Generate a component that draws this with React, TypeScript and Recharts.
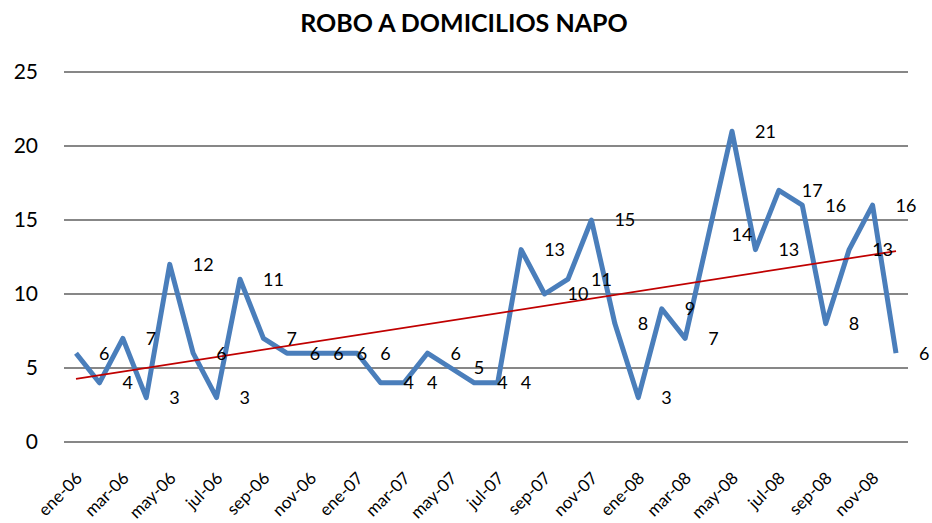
import React from 'react';
import {
  LineChart,
  Line,
  XAxis,
  YAxis,
  CartesianGrid,
  LabelList,
} from 'recharts';

// Meses ene-06 .. dic-08
const MONTHS = [
  'ene-06', 'feb-06', 'mar-06', 'abr-06', 'may-06', 'jun-06',
  'jul-06', 'ago-06', 'sep-06', 'oct-06', 'nov-06', 'dic-06',
  'ene-07', 'feb-07', 'mar-07', 'abr-07', 'may-07', 'jun-07',
  'jul-07', 'ago-07', 'sep-07', 'oct-07', 'nov-07', 'dic-07',
  'ene-08', 'feb-08', 'mar-08', 'abr-08', 'may-08', 'jun-08',
  'jul-08', 'ago-08', 'sep-08', 'oct-08', 'nov-08', 'dic-08',
];

// Robos a domicilio por mes
const ROBOS = [
  6, 4, 7, 3, 12, 6, 3, 11, 7, 6, 6, 6,
  6, 4, 4, 6, 5, 4, 4, 13, 10, 11, 15, 8,
  3, 9, 7, 14, 21, 13, 17, 16, 8, 13, 16, 6,
];

// Línea de tendencia (extremos)
const TREND_START = 4.26;
const TREND_END = 12.9;

const Y_TICKS = [0, 5, 10, 15, 20, 25];

const FONT = 'Lato, "Open Sans", sans-serif';

const data = MONTHS.map((m, i) => ({
  mes: m,
  robos: ROBOS[i],
  tendencia: i === 0 ? TREND_START : i === MONTHS.length - 1 ? TREND_END : null,
}));

function MonthTick({ x, y, payload }: any) {
  const tx = x + 3;
  const ty = y + 25;
  return (
    <text
      x={tx}
      y={ty}
      dy="0.35em"
      textAnchor="end"
      transform={`rotate(-45, ${tx}, ${ty})`}
      fontSize={17}
      fontFamily={FONT}
      fill="#000"
    >
      {payload.value}
    </text>
  );
}

function ValueLabel({ x, y, value }: any) {
  return (
    <text
      x={x + 23}
      y={y}
      dy="0.35em"
      textAnchor="start"
      fontSize={18}
      fontFamily={FONT}
      fill="#000"
    >
      {value}
    </text>
  );
}

export default function App() {
  return (
    <div style={{ position: 'absolute', left: 0, top: 0, width: 932, height: 523, background: '#fff' }}>
      <div
        style={{
          position: 'absolute',
          left: 0,
          top: 7,
          width: 928,
          textAlign: 'center',
          fontFamily: FONT,
          fontWeight: 700,
          fontSize: 25,
          color: '#000',
        }}
      >
        ROBO A DOMICILIOS NAPO
      </div>
      <LineChart
        width={932}
        height={523}
        data={data}
        margin={{ top: 72, right: 24, bottom: 0, left: 0 }}
      >
        <CartesianGrid vertical={false} stroke="#878787" strokeWidth={2} />
        <XAxis
          dataKey="mes"
          interval={1}
          height={81}
          padding={{ left: 12, right: 12 }}
          axisLine={false}
          tickLine={false}
          tick={<MonthTick />}
        />
        <YAxis
          width={64}
          domain={[0, 25]}
          ticks={Y_TICKS}
          axisLine={false}
          tickLine={false}
          tickSize={0}
          tickMargin={26}
          tick={{ fontSize: 21, fontFamily: FONT, fill: '#000' }}
        />
        <Line
          dataKey="robos"
          stroke="#4a7ebb"
          strokeWidth={5}
          strokeLinejoin="round"
          dot={false}
          activeDot={false}
          isAnimationActive={false}
        >
          <LabelList dataKey="robos" content={<ValueLabel />} />
        </Line>
        <Line
          dataKey="tendencia"
          stroke="#c00000"
          strokeWidth={1.75}
          dot={false}
          activeDot={false}
          connectNulls
          isAnimationActive={false}
        />
      </LineChart>
    </div>
  );
}
